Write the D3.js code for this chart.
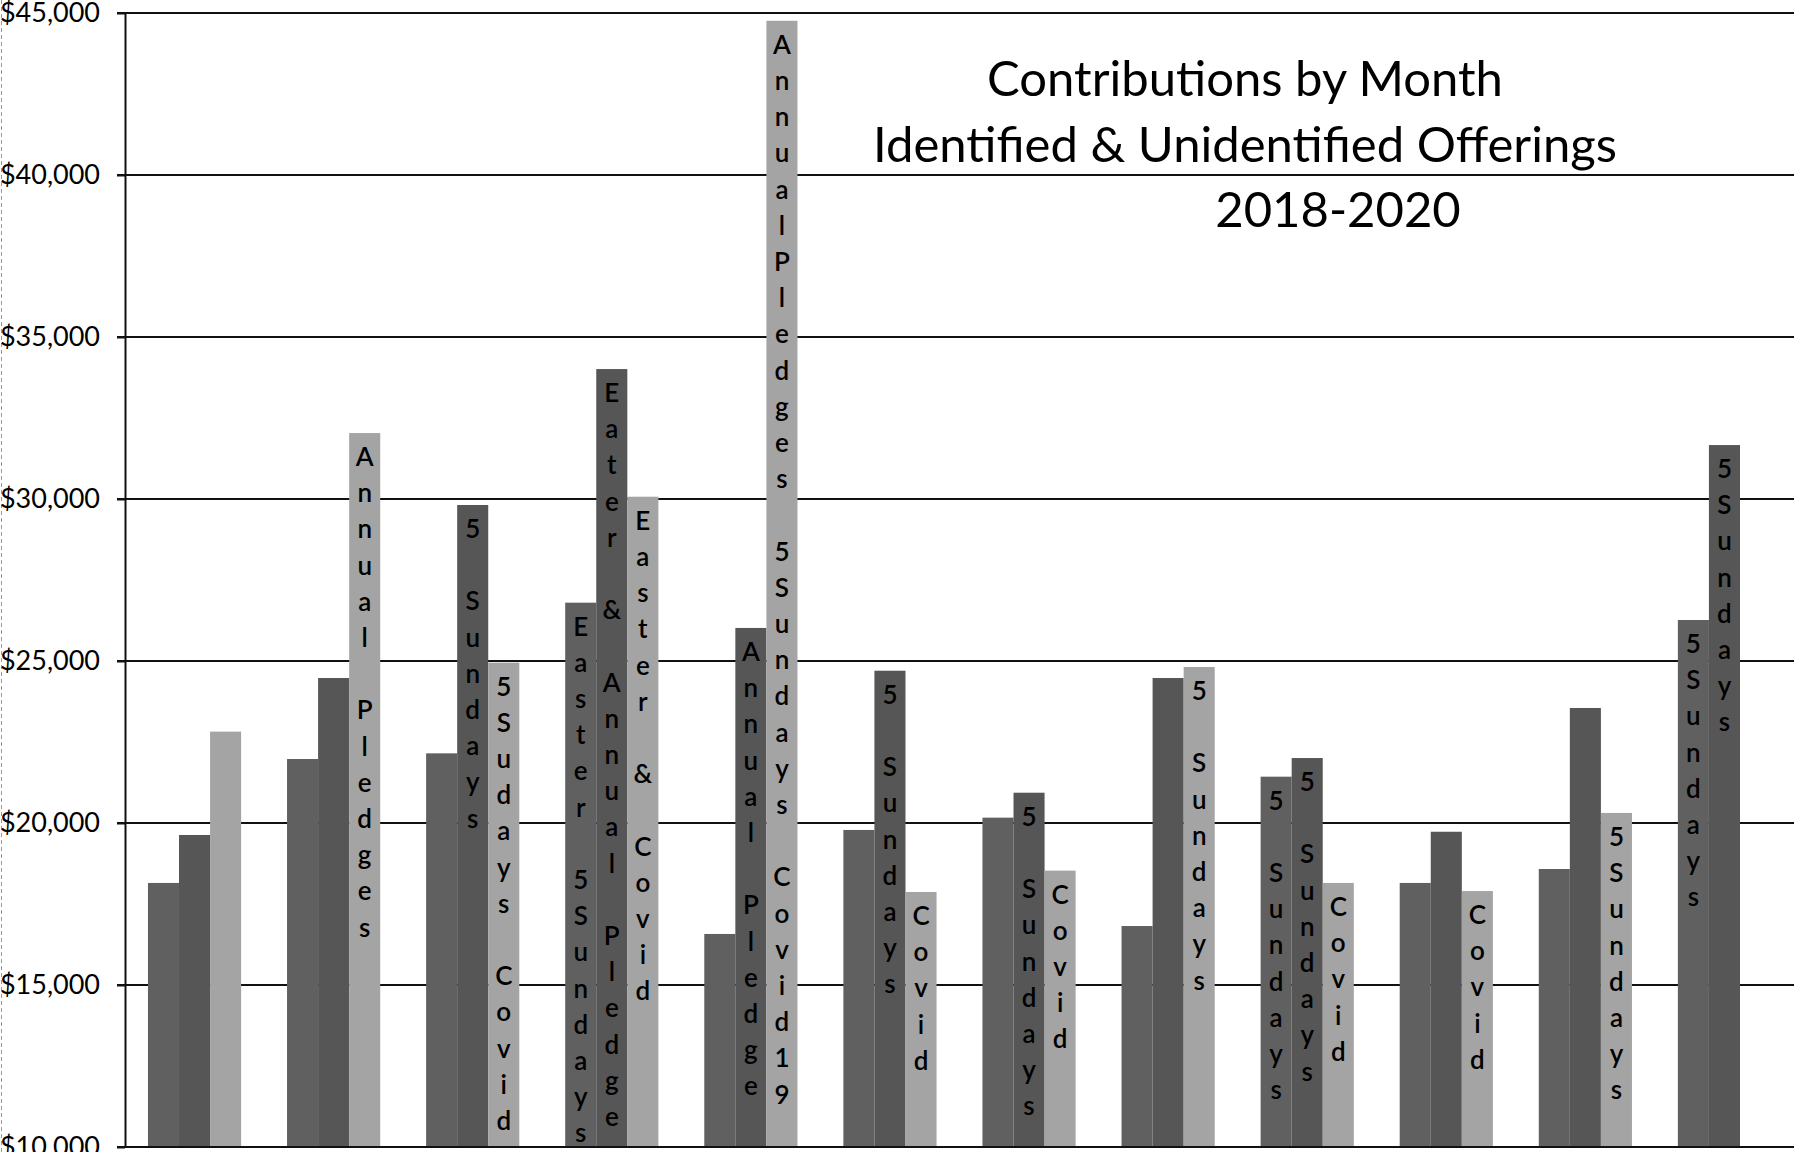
<!DOCTYPE html>
<html>
<head>
<meta charset="utf-8">
<script src="https://cdn.jsdelivr.net/npm/d3@7"></script>
<style>
  html, body { margin: 0; padding: 0; background: #fff; overflow: hidden; }
  #svgContainer { width: 1796px; height: 1152px; }
</style>
</head>
<body>
<div id="svgContainer"></div>
<script>
const months = ["Jan", "Feb", "Mar", "Apr", "May", "Jun", "Jul", "Aug", "Sep", "Oct", "Nov", "Dec"];
const years = ["2018", "2019", "2020"];

// Monthly totals
const values2018 = [18150, 21975, 22150, 26800, 16575, 19785, 20165, 16820, 21430, 18150, 18580, 26265];
const values2019 = [19630, 24475, 29815, 34010, 26020, 24700, 20935, 24475, 22005, 19730, 23550, 31665];
const values2020 = [22820, 32035, 24950, 30070, 44760, 17870, 18530, 24815, 18150, 17900, 20310, null];

// Notes written down the bars (one letter per line, as in the original)
const labels2018 = ["", "", "", "Easter 5Sundays", "", "", "", "", "5 Sundays", "", "", "5Sundays"];
const labels2019 = ["", "", "5 Sundays", "Eater & Annual Pledge", "Annual Pledge", "5 Sundays", "5 Sundays", "", "5 Sundays", "", "", "5Sundays"];
const labels2020 = ["", "Annual Pledges", "5Sudays Covid", "Easter & Covid", "AnnualPledges 5Sundays Covid19", "Covid", "Covid", "5 Sundays", "Covid", "Covid", "5Sundays", ""];

const yTicks = [10000, 15000, 20000, 25000, 30000, 35000, 40000, 45000];
const titleLines = ["Contributions by Month", "Identified & Unidentified Offerings", "2018-2020"];

const seriesValues = [values2018, values2019, values2020];
const seriesLabels = [labels2018, labels2019, labels2020];
const colors = ["#606060", "#565656", "#a4a4a4"];

const width = 1796;
const height = 1152;
const plotLeft = 125;
const plotRight = 1794;
const plotTop = 13;
const plotBottom = 1147;
const font = "Lato, 'Open Sans', sans-serif";

const svg = d3.select("#svgContainer").append("svg")
  .attr("width", width)
  .attr("height", height);

const x = d3.scaleBand()
  .domain(months)
  .range([plotLeft, plotRight])
  .paddingInner(0.33)
  .paddingOuter(0.165);

const xInner = d3.scaleBand()
  .domain(years)
  .range([0, x.bandwidth()]);

const y = d3.scaleLinear()
  .domain([10000, 45000])
  .range([plotBottom, plotTop]);

// Scan edge on the far left
svg.append("line")
  .attr("x1", 1.5).attr("x2", 1.5)
  .attr("y1", 0).attr("y2", height)
  .attr("stroke", "#999")
  .attr("stroke-dasharray", "4,3");

// Gridlines
svg.append("g")
  .selectAll("line")
  .data(yTicks)
  .join("line")
  .attr("x1", plotLeft - 8)
  .attr("x2", plotRight)
  .attr("y1", d => y(d))
  .attr("y2", d => y(d))
  .attr("stroke", "#111")
  .attr("stroke-width", 2);

// Bars
const groups = svg.append("g")
  .selectAll("g")
  .data(months)
  .join("g")
  .attr("transform", d => `translate(${x(d)}, 0)`);

groups.selectAll("rect")
  .data((m, i) => years.map((yr, s) => ({ year: yr, s: s, value: seriesValues[s][i] })).filter(d => d.value != null))
  .join("rect")
  .attr("x", d => xInner(d.year))
  .attr("y", d => y(d.value))
  .attr("width", xInner.bandwidth())
  .attr("height", d => y(10000) - y(d.value))
  .attr("fill", d => colors[d.s]);

// Stacked letter labels
const lineStep = 36.2;
const firstBaseline = 33;
const labelG = svg.append("g")
  .attr("font-family", font)
  .attr("font-size", "26px")
  .attr("font-weight", "600")
  .attr("fill", "#000")
  .attr("text-anchor", "middle");

for (let s = 0; s < years.length; s++) {
  for (let i = 0; i < months.length; i++) {
    const text = seriesLabels[s][i];
    const value = seriesValues[s][i];
    if (!text || value == null) continue;
    const cx = x(months[i]) + xInner(years[s]) + xInner.bandwidth() / 2;
    const chars = text.split("");
    for (let j = 0; j < chars.length; j++) {
      if (chars[j] === " ") continue;
      labelG.append("text")
        .attr("x", cx)
        .attr("y", y(value) + firstBaseline + j * lineStep)
        .text(chars[j]);
    }
  }
}

// Y axis
const yAxis = svg.append("g")
  .attr("transform", `translate(${plotLeft}, 0)`)
  .call(d3.axisLeft(y)
    .tickValues(yTicks)
    .tickSize(8)
    .tickSizeOuter(0)
    .tickPadding(17)
    .tickFormat(d => "$" + d3.format(",")(d)));

yAxis.select(".domain").attr("stroke", "#111").attr("stroke-width", 2);
yAxis.selectAll(".tick line").attr("stroke", "#111").attr("stroke-width", 2);
yAxis.selectAll(".tick text")
  .attr("font-family", font)
  .attr("font-size", "27px")
  .attr("fill", "#000");

// Bottom axis line
svg.append("line")
  .attr("x1", plotLeft)
  .attr("x2", plotRight)
  .attr("y1", y(10000))
  .attr("y2", y(10000))
  .attr("stroke", "#111")
  .attr("stroke-width", 2);

// Title
const titleX = [1245, 1245, 1338];
const titleY = [96, 162, 227];
svg.append("g")
  .attr("font-family", font)
  .attr("font-size", "49px")
  .attr("fill", "#000")
  .attr("text-anchor", "middle")
  .selectAll("text")
  .data(titleLines)
  .join("text")
  .attr("x", (d, i) => titleX[i])
  .attr("y", (d, i) => titleY[i])
  .text(d => d);
</script>
</body>
</html>
